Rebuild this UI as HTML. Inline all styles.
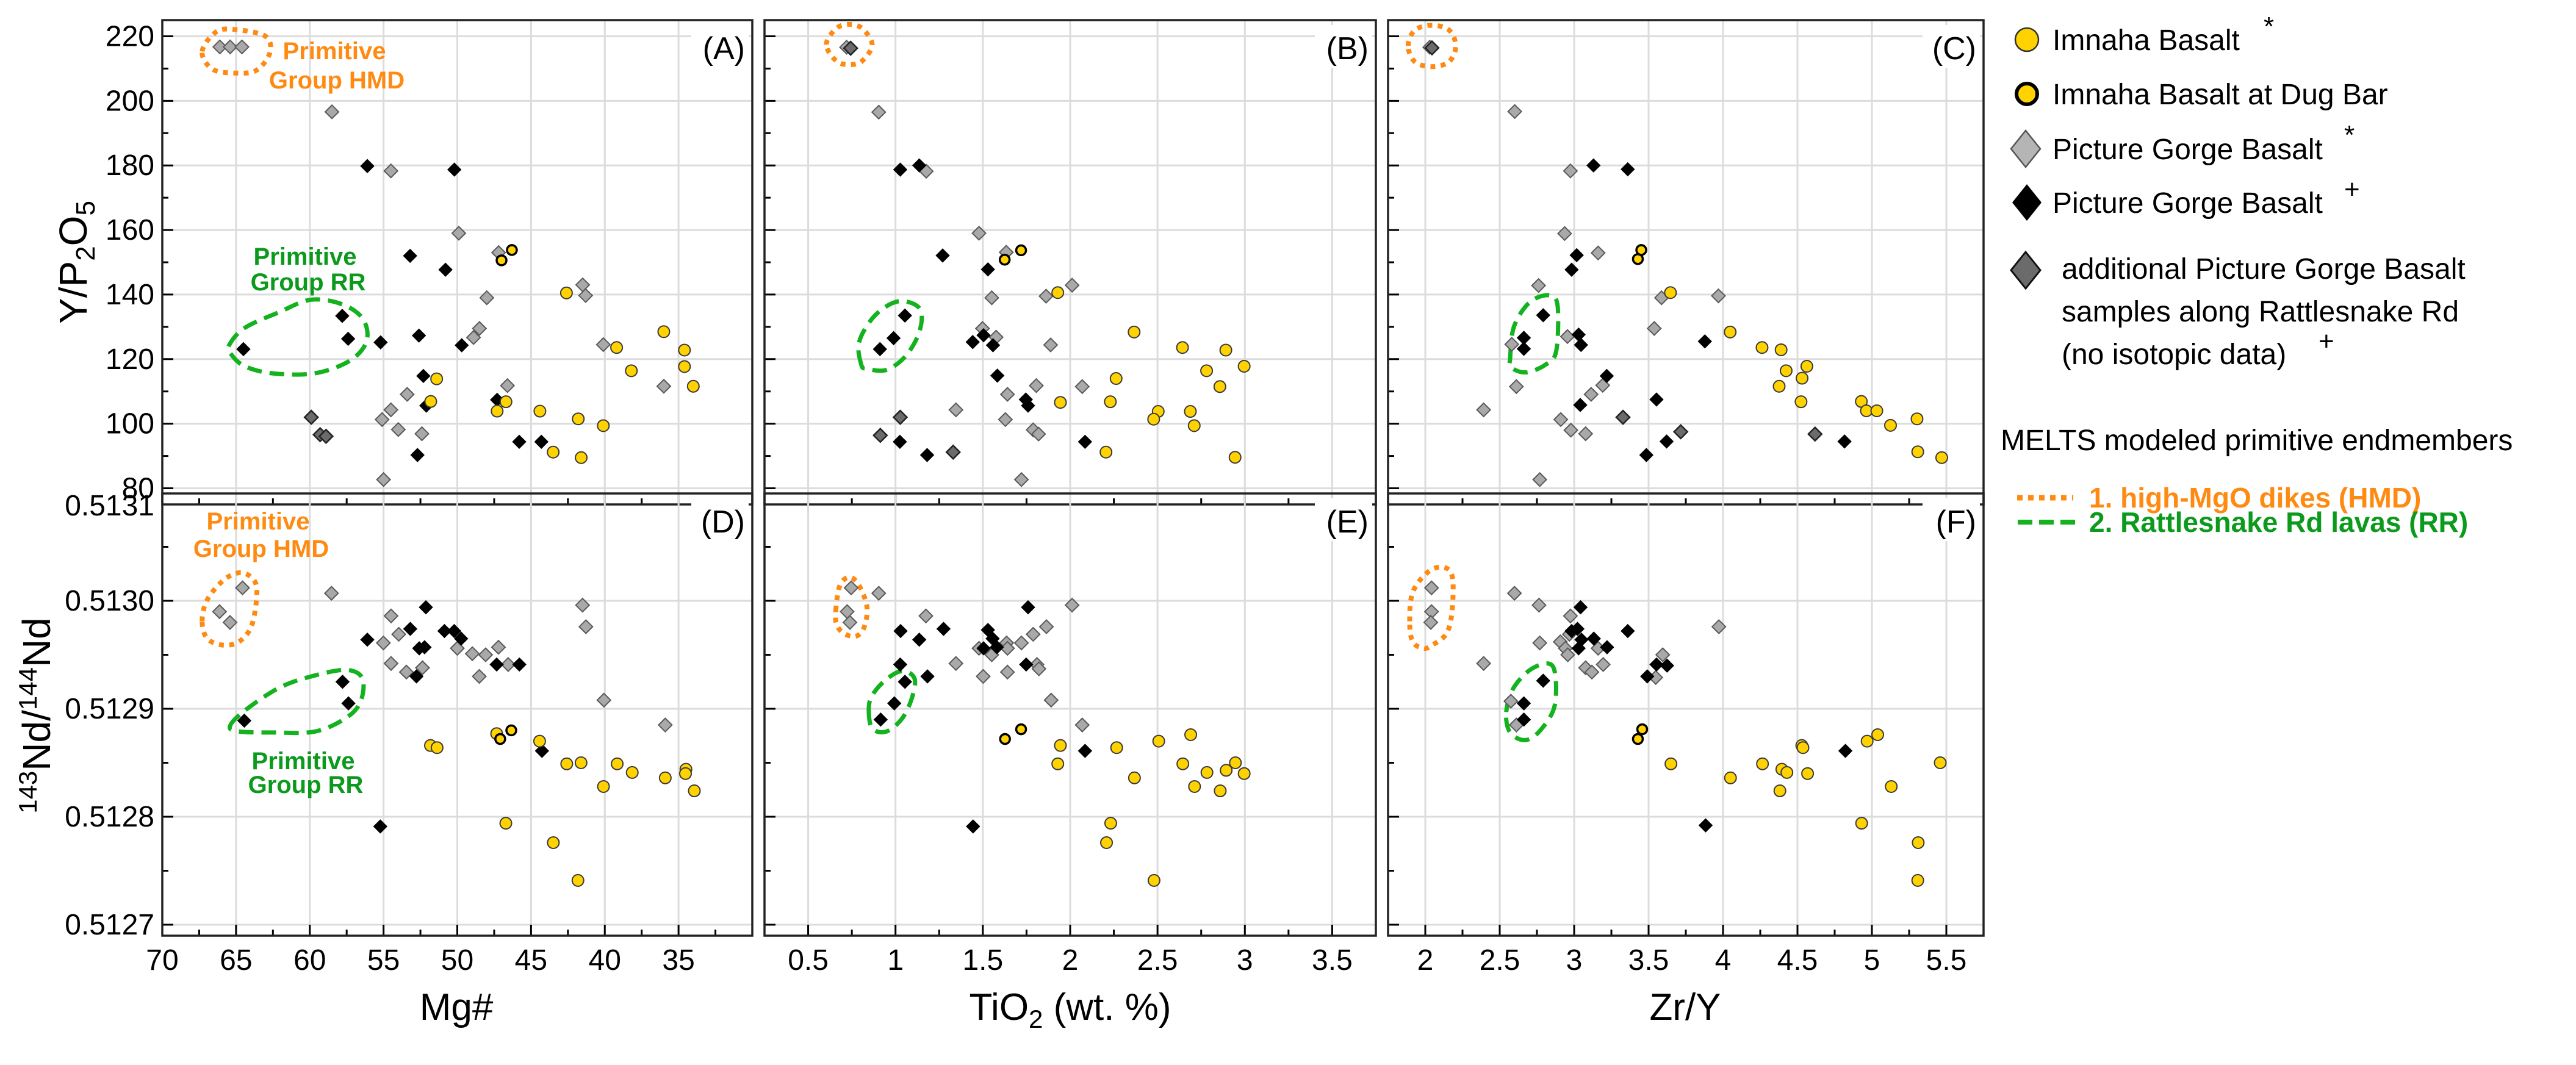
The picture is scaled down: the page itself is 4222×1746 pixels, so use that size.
<!DOCTYPE html>
<html><head><meta charset="utf-8"><title>Basalt geochemistry panels</title>
<style>
html,body{margin:0;padding:0;background:#fff;}
body{position:relative;width:4222px;height:1746px;overflow:hidden;}
svg{display:block;font-family:"Liberation Sans",sans-serif;}
</style></head>
<body>
<svg id="fig" xmlns="http://www.w3.org/2000/svg" width="4222" height="1746" viewBox="0 0 4222 1746"></svg>
<script>
// ---------------- DATA ----------------
const A_imnaha = [[51.4,113.9],[51.8,106.9],[47.3,103.9],[46.7,106.8],[44.4,103.9],[43.5,91.2],[42.6,140.5],[41.8,101.5],[41.6,89.5],[40.1,99.4],[39.2,123.6],[38.2,116.4],[36.0,128.5],[34.6,122.8],[34.6,117.7],[34.0,111.6]];
const A_dugbar = [[47.0,150.6],[46.3,153.8]];
const A_pgbGray = [[66.1,216.7],[65.4,216.7],[64.6,216.7],[58.5,196.6],[54.5,178.3],[49.9,159],[47.2,153],[48.0,139],[48.9,126.7],[48.5,129.5],[53.4,109.1],[54.5,104.3],[55.1,101.3],[54.0,98.2],[52.4,96.9],[55.0,82.7],[46.6,111.8],[41.5,143],[41.3,139.7],[40.1,124.5],[36.0,111.6]];
const A_pgbBlack = [[56.1,179.8],[50.2,178.7],[53.2,152],[50.8,147.7],[57.8,133.4],[57.4,126.3],[64.5,123.1],[55.2,125.2],[52.6,127.3],[49.7,124.3],[52.3,114.8],[52.1,105.6],[52.7,90.3],[47.3,107.4],[45.8,94.4],[44.3,94.4]];
const A_pgbExtra = [[59.9,102],[59.3,96.6],[58.9,96.1]];

const B_imnaha = [[1.929,140.6],[2.366,128.4],[2.643,123.6],[2.891,122.8],[2.781,116.4],[2.996,117.8],[2.857,111.5],[2.263,114.0],[1.944,106.6],[2.230,106.8],[2.504,103.8],[2.478,101.4],[2.688,103.8],[2.710,99.4],[2.205,91.2],[2.944,89.6]];
const B_dugbar = [[1.625,150.8],[1.719,153.7]];
const B_pgbGray = [[0.72,216.6],[0.904,196.5],[1.176,178.2],[1.478,159.0],[1.634,153.1],[1.551,139.0],[1.862,139.5],[2.011,142.9],[1.498,129.5],[1.576,126.8],[1.888,124.4],[1.806,111.8],[2.069,111.5],[1.641,109.1],[1.346,104.3],[1.629,101.3],[1.788,98.1],[1.819,96.8],[1.721,82.7]];
const B_pgbBlack = [[1.027,178.7],[1.136,180.0],[1.270,152.1],[1.529,147.8],[1.054,133.5],[0.989,126.5],[0.911,123.1],[1.504,127.4],[1.442,125.3],[1.558,124.3],[1.583,114.9],[1.746,107.5],[1.759,105.6],[1.025,94.4],[1.181,90.3],[2.085,94.4]];
const B_pgbExtra = [[0.743,216.3],[1.027,102.0],[0.913,96.4],[1.330,91.2]];

const C_imnaha = [[3.647,140.6],[4.048,128.4],[4.262,123.6],[4.390,122.9],[4.424,116.4],[4.563,117.8],[4.531,114.1],[4.377,111.6],[4.524,106.8],[4.929,106.9],[4.963,104.0],[5.033,104.0],[5.125,99.5],[5.303,101.5],[5.308,91.3],[5.469,89.5]];
const C_dugbar = [[3.428,151.0],[3.451,153.8]];
const C_pgbGray = [[2.03,216.6],[2.601,196.7],[2.975,178.3],[2.936,158.9],[3.161,152.9],[2.761,142.8],[3.587,139.0],[3.969,139.6],[2.581,124.6],[2.955,127.0],[3.538,129.5],[2.612,111.5],[3.192,111.9],[3.114,109.1],[2.392,104.3],[2.910,101.3],[2.978,98.0],[3.077,96.9],[2.769,82.7]];
const C_pgbBlack = [[3.130,180.0],[3.360,178.8],[3.017,152.2],[2.983,147.7],[2.792,133.6],[2.662,126.6],[2.662,123.2],[3.030,127.6],[3.046,124.4],[3.878,125.5],[3.219,114.8],[3.553,107.5],[3.041,105.8],[3.621,94.5],[3.485,90.3],[4.816,94.5]];
const C_pgbExtra = [[2.045,216.4],[3.328,102.0],[3.716,97.5],[4.618,96.8]];

const D_imnaha = [[51.82,0.512866],[51.37,0.512864],[47.33,0.512877],[44.42,0.512870],[46.71,0.512794],[42.58,0.512849],[41.61,0.512850],[39.16,0.512849],[38.14,0.512841],[35.90,0.512836],[34.50,0.512844],[34.53,0.512840],[33.93,0.512824],[40.09,0.512828],[43.49,0.512776],[41.82,0.512741]];
const D_dugbar = [[47.09,0.512872],[46.34,0.512880]];
const D_pgbGray = [[66.12,0.512990],[65.41,0.512980],[64.56,0.513012],[58.53,0.513007],[55.01,0.512961],[54.49,0.512986],[53.97,0.512969],[54.49,0.512942],[53.45,0.512934],[52.36,0.512938],[50.0,0.512956],[48.98,0.512951],[48.08,0.512950],[48.51,0.512930],[47.21,0.512957],[46.55,0.512941],[41.51,0.512996],[41.28,0.512976],[40.06,0.512908],[35.90,0.512885]];
const D_pgbBlack = [[64.44,0.512889],[57.78,0.512925],[57.38,0.512905],[56.10,0.512964],[53.19,0.512974],[52.77,0.512930],[52.58,0.512956],[52.22,0.512957],[52.13,0.512994],[50.87,0.512972],[50.21,0.512972],[49.74,0.512965],[47.33,0.512941],[45.79,0.512941],[44.26,0.512861],[55.22,0.512791]];

const E_imnaha = [[1.944,0.512866],[1.929,0.512849],[2.266,0.512864],[2.507,0.512870],[2.690,0.512876],[2.368,0.512836],[2.645,0.512849],[2.712,0.512828],[2.783,0.512841],[2.893,0.512843],[2.946,0.512850],[2.996,0.512840],[2.859,0.512824],[2.232,0.512794],[2.208,0.512776],[2.480,0.512741]];
const E_dugbar = [[1.627,0.512872],[1.719,0.512881]];
const E_pgbGray = [[0.746,0.513012],[0.723,0.512990],[0.739,0.512980],[0.904,0.513007],[1.174,0.512986],[1.346,0.512942],[1.478,0.512956],[1.551,0.512950],[1.636,0.512961],[1.641,0.512956],[1.721,0.512961],[1.788,0.512969],[1.864,0.512976],[2.011,0.512996],[1.810,0.512941],[1.821,0.512937],[1.502,0.512930],[1.641,0.512934],[1.891,0.512908],[2.069,0.512885]];
const E_pgbBlack = [[1.029,0.512972],[1.136,0.512964],[1.275,0.512974],[1.027,0.512941],[1.054,0.512925],[0.993,0.512905],[0.915,0.512890],[1.183,0.512930],[1.529,0.512973],[1.556,0.512965],[1.580,0.512957],[1.504,0.512956],[1.759,0.512994],[1.748,0.512941],[2.085,0.512861],[1.444,0.512791]];

const F_imnaha = [[3.650,0.512849],[4.050,0.512836],[4.265,0.512849],[4.395,0.512844],[4.429,0.512841],[4.382,0.512824],[4.568,0.512840],[4.529,0.512866],[4.537,0.512864],[4.968,0.512870],[5.039,0.512876],[5.130,0.512828],[4.931,0.512794],[5.311,0.512776],[5.308,0.512741],[5.459,0.512850]];
const F_dugbar = [[3.428,0.512872],[3.457,0.512881]];
const F_pgbGray = [[2.042,0.513012],[2.042,0.512990],[2.037,0.512980],[2.599,0.513007],[2.764,0.512996],[2.975,0.512986],[2.968,0.512969],[3.161,0.512956],[2.907,0.512962],[2.941,0.512956],[2.957,0.512950],[2.769,0.512961],[2.392,0.512942],[3.077,0.512938],[3.119,0.512934],[3.195,0.512941],[3.595,0.512950],[3.548,0.512929],[3.972,0.512976],[2.575,0.512907],[2.612,0.512885]];
const F_pgbBlack = [[3.043,0.512994],[2.983,0.512972],[3.022,0.512974],[3.049,0.512964],[3.132,0.512965],[3.030,0.512956],[3.221,0.512957],[3.360,0.512972],[3.553,0.512941],[3.624,0.512940],[3.491,0.512930],[2.792,0.512926],[2.662,0.512905],[2.662,0.512890],[4.822,0.512861],[3.883,0.512792]];

const mgTicks = [70,65,60,55,50,45,40,35];
const tiTicks = [0.5,1,1.5,2,2.5,3,3.5];
const zrTicks = [2,2.5,3,3.5,4,4.5,5,5.5];
const ypTicks = [80,100,120,140,160,180,200,220];
const ndTicks = [0.5127,0.5128,0.5129,0.5130,0.5131];

const A_hmd = [[67.3,215.3],[66.3,221.5],[64.9,222.0],[63.0,220.0],[62.7,215.0],[63.6,209.5],[65.0,208.6],[66.6,209.8]];
const A_rr = [[65.47,124.3],[64.41,129.7],[62.05,134.6],[59.93,138.4],[57.81,137.0],[56.39,132.4],[56.16,125.4],[57.33,119.4],[59.69,115.6],[62.52,115.6],[64.41,117.8],[65.35,121.6]];
const B_hmd = [[0.604,217.4],[0.66,222.4],[0.735,223.7],[0.81,222.4],[0.866,217.4],[0.81,212.4],[0.735,211.2],[0.66,212.4]];
const B_rr = [[0.804,118.3],[0.792,125.4],[0.882,133.5],[1.016,137.9],[1.138,135.7],[1.138,128.7],[1.060,121.1],[0.949,116.7],[0.837,117.0]];
const C_hmd = [[1.885,217.0],[1.93,221.9],[2.045,223.4],[2.16,221.9],[2.205,217.0],[2.16,212.1],[2.045,210.6],[1.93,212.1]];
const C_rr = [[2.570,120.3],[2.596,130.1],[2.701,137.6],[2.832,139.8],[2.889,136.5],[2.879,122.4],[2.805,118.2],[2.675,115.9],[2.575,117.5]];
const D_hmd = [[67.30,0.512981],[66.95,0.513001],[65.77,0.513020],[64.59,0.513026],[63.69,0.513017],[63.64,0.512998],[64.0,0.512975],[64.82,0.512962],[65.89,0.512959],[66.95,0.512965]];
const D_rr = [[65.41,0.512884],[64.35,0.512899],[61.99,0.512920],[59.62,0.512931],[57.49,0.512936],[56.43,0.512928],[56.55,0.512907],[57.49,0.512892],[59.62,0.512879],[62.46,0.512878],[64.82,0.512879]];
const E_hmd = [[0.658,0.512991],[0.681,0.513014],[0.737,0.513022],[0.792,0.513014],[0.837,0.512994],[0.819,0.512975],[0.770,0.512967],[0.703,0.512970],[0.663,0.512978]];
const E_rr = [[0.848,0.512894],[0.859,0.512910],[0.938,0.512926],[1.038,0.512935],[1.109,0.512928],[1.094,0.512910],[1.038,0.512891],[0.949,0.512879],[0.871,0.512881]];
const F_hmd = [[1.895,0.512981],[1.916,0.513008],[2.021,0.513027],[2.126,0.513031],[2.183,0.513021],[2.178,0.512988],[2.139,0.512969],[2.047,0.512959],[1.990,0.512956],[1.916,0.512962]];
const F_rr = [[2.544,0.512897],[2.596,0.512920],[2.727,0.512938],[2.858,0.512939],[2.871,0.512904],[2.779,0.512881],[2.675,0.512871],[2.570,0.512878]];

// ---------------- HELPERS ----------------
const NS = "http://www.w3.org/2000/svg";
const svg = document.getElementById('fig');
function mk(tag, attrs, parent){
  const e = document.createElementNS(NS, tag);
  for (const k in attrs) e.setAttribute(k, attrs[k]);
  (parent||svg).appendChild(e);
  return e;
}
const xMg = v => 266 + (70 - v) / 40 * 967;
const xTi = v => 1253 + (v - 0.25) / 3.5 * 1002;
const xZr = v => 2275 + (v - 1.75) / 4 * 976;
const yYP = v => 33 + (225 - v) / 150 * 794;
const yNd = v => 1516 - (v - 0.5127) * 1770000;

const COLS = {
  A:{x0:266,x1:1233,y0:33,y1:827,sx:xMg,sy:yYP,label:'(A)'},
  B:{x0:1253,x1:2255,y0:33,y1:827,sx:xTi,sy:yYP,label:'(B)'},
  C:{x0:2275,x1:3251,y0:33,y1:827,sx:xZr,sy:yYP,label:'(C)'},
  D:{x0:266,x1:1233,y0:809,y1:1534,sx:xMg,sy:yNd,label:'(D)'},
  E:{x0:1253,x1:2255,y0:809,y1:1534,sx:xTi,sy:yNd,label:'(E)'},
  F:{x0:2275,x1:3251,y0:809,y1:1534,sx:xZr,sy:yNd,label:'(F)'}
};
const xMaj = {A:mgTicks,B:tiTicks,C:zrTicks,D:mgTicks,E:tiTicks,F:zrTicks};
const xMinStep = {A:2.5,B:0.25,C:0.25,D:2.5,E:0.25,F:0.25};
const yMaj = {A:ypTicks,B:ypTicks,C:ypTicks,D:ndTicks,E:ndTicks,F:ndTicks};

function catmull(pts){
  const n = pts.length; let d = 'M'+pts[0][0].toFixed(1)+','+pts[0][1].toFixed(1);
  for (let i=0;i<n;i++){
    const p0=pts[(i-1+n)%n],p1=pts[i],p2=pts[(i+1)%n],p3=pts[(i+2)%n];
    const c1=[p1[0]+(p2[0]-p0[0])/6,p1[1]+(p2[1]-p0[1])/6];
    const c2=[p2[0]-(p3[0]-p1[0])/6,p2[1]-(p3[1]-p1[1])/6];
    d+=' C'+c1[0].toFixed(1)+','+c1[1].toFixed(1)+' '+c2[0].toFixed(1)+','+c2[1].toFixed(1)+' '+p2[0].toFixed(1)+','+p2[1].toFixed(1);
  }
  return d+'Z';
}

function drawPanel(key, series, hmd, rr){
  const P = COLS[key];
  const g = mk('g', {});
  
  
  xMaj[key].forEach(v=>{
    const x = P.sx(v);
    if (x > P.x0+2 && x < P.x1-2){
      const l = mk('line',{x1:x,x2:x,y1:P.y0,y2:P.y1,stroke:'#dcdcdc','stroke-width':3},g);
      
      
    }
  });
  yMaj[key].forEach(v=>{
    const y = P.sy(v);
    if (y > P.y0+2 && y < P.y1-2){
      const l = mk('line',{x1:P.x0,x2:P.x1,y1:y,y2:y,stroke:'#dcdcdc','stroke-width':3},g);
      
      
    }
  });
  const bg = mk('rect',{x:P.x1-100,y:P.y0+8,width:94,height:70,fill:'#fff'},g);
  
  
  const lt = mk('text',{x:P.x1-12,y:P.y0+64,'font-size':52,'text-anchor':'end',fill:'#000'},g);
  lt.textContent = P.label;
  
  
  const x0v = Math.min(xMaj[key][0], xMaj[key][xMaj[key].length-1]);
  const x1v = Math.max(xMaj[key][0], xMaj[key][xMaj[key].length-1]);
  for (let v = x0v - 2*xMinStep[key]; v <= x1v + 2*xMinStep[key] + 1e-9; v += xMinStep[key]){
    const x = P.sx(v);
    if (x <= P.x0+3 || x >= P.x1-3) continue;
    const isMaj = xMaj[key].some(t=>Math.abs(t-v)<1e-6);
    const t = mk('line',{x1:x,x2:x,y1:P.y1,y2:P.y1-(isMaj?18:10),stroke:'#000','stroke-width':3},g);
    
    
  }
  const ym = yMaj[key];
  const ystep = (ym[1]-ym[0])/2;
  for (let i = 0; i < ym.length*2+1; i++){
    const v = ym[0] + i*ystep;
    const y = P.sy(v);
    if (y <= P.y0+3 || y >= P.y1-3) continue;
    const isMaj = i%2===0;
    const t = mk('line',{x1:P.x0,x2:P.x0+(isMaj?18:10),y1:y,y2:y,stroke:'#000','stroke-width':3},g);
    
    
  }
  if (key==='A' || key==='D'){
    ym.forEach(v=>{
      let y = P.sy(v);
      if (y < P.y0-20 || y > P.y1+5) return;
      if (key==='D') y = Math.max(y, P.y0+20);
      const t = mk('text',{x:253,y:y+16,'font-size':48,'text-anchor':'end',fill:'#000'},g);
      t.textContent = key==='A' ? String(v) : v.toFixed(4);
      
      
    });
  }
  if (key==='D' || key==='E' || key==='F'){
    xMaj[key].forEach(v=>{
      const t = mk('text',{x:P.sx(v),y:1590,'font-size':48,'text-anchor':'middle',fill:'#000'},g);
      t.textContent = String(v);
      
      
    });
  }
  const hp = mk('path',{d:catmull(hmd.map(p=>[P.sx(p[0]),P.sy(p[1])])),fill:'none',stroke:'#FF8A12','stroke-width':8,'stroke-dasharray':'8 9'},g);
  
  
  const rp = mk('path',{d:catmull(rr.map(p=>[P.sx(p[0]),P.sy(p[1])])),fill:'none',stroke:'#13B21E','stroke-width':7,'stroke-dasharray':'24 13'},g);
  
  
  const diamond = (x,y,h,fill,stroke,sw,name)=>{
    const d = mk('path',{d:`M${x},${y-h}L${x+h},${y}L${x},${y+h}L${x-h},${y}Z`,fill:fill,stroke:stroke,'stroke-width':sw},g);
    
    
  };
  (series.gray||[]).forEach(p=>diamond(P.sx(p[0]),P.sy(p[1]),11,'#A9A9A9','#5a5a5a',2,'pgb-star-point'));
  (series.extra||[]).forEach(p=>diamond(P.sx(p[0]),P.sy(p[1]),11,'#6b6b6b','#222',2.5,'pgb-rattlesnake-point'));
  (series.black||[]).forEach(p=>diamond(P.sx(p[0]),P.sy(p[1]),11,'#000','#000',1,'pgb-plus-point'));
  (series.imnaha||[]).forEach(p=>{
    const c = mk('circle',{cx:P.sx(p[0]),cy:P.sy(p[1]),r:9.5,fill:'#FFD200',stroke:'#3a3a3a','stroke-width':2},g);
    
    
  });
  (series.dug||[]).forEach(p=>{
    const c = mk('circle',{cx:P.sx(p[0]),cy:P.sy(p[1]),r:8,fill:'#FFD200',stroke:'#000','stroke-width':3.5},g);
    
    
  });
  const fr = mk('rect',{x:P.x0,y:P.y0,width:P.x1-P.x0,height:P.y1-P.y0,fill:'none',stroke:'#222','stroke-width':3.5},g);
  
  
}

drawPanel('A',{imnaha:A_imnaha,dug:A_dugbar,gray:A_pgbGray,black:A_pgbBlack,extra:A_pgbExtra},A_hmd,A_rr);
drawPanel('B',{imnaha:B_imnaha,dug:B_dugbar,gray:B_pgbGray,black:B_pgbBlack,extra:B_pgbExtra},B_hmd,B_rr);
drawPanel('C',{imnaha:C_imnaha,dug:C_dugbar,gray:C_pgbGray,black:C_pgbBlack,extra:C_pgbExtra},C_hmd,C_rr);
drawPanel('D',{imnaha:D_imnaha,dug:D_dugbar,gray:D_pgbGray,black:D_pgbBlack},D_hmd,D_rr);
drawPanel('E',{imnaha:E_imnaha,dug:E_dugbar,gray:E_pgbGray,black:E_pgbBlack},E_hmd,E_rr);
drawPanel('F',{imnaha:F_imnaha,dug:F_dugbar,gray:F_pgbGray,black:F_pgbBlack},F_hmd,F_rr);
</script>

<svg style="position:absolute;left:0;top:0" width="4222" height="1746" viewBox="0 0 4222 1746" xmlns="http://www.w3.org/2000/svg" font-family="Liberation Sans, sans-serif">
  <g font-weight="bold" font-size="40" text-anchor="middle">
    <text x="548" y="97" fill="#FF8A12">Primitive</text>
    <text x="552" y="145" fill="#FF8A12">Group HMD</text>
    <text x="500" y="434" fill="#0B9A1C">Primitive</text>
    <text x="505" y="476" fill="#0B9A1C">Group RR</text>
    <text x="423" y="868" fill="#FF8A12">Primitive</text>
    <text x="428" y="913" fill="#FF8A12">Group HMD</text>
    <text x="497" y="1261" fill="#0B9A1C">Primitive</text>
    <text x="501" y="1300" fill="#0B9A1C">Group RR</text>
  </g>
  <text transform="translate(142,430) rotate(-90)" font-size="64" text-anchor="middle">Y/P<tspan font-size="44" dy="13">2</tspan><tspan dy="-13">O</tspan><tspan font-size="44" dy="13">5</tspan></text>
  <text transform="translate(82,1173) rotate(-90)" font-size="64" text-anchor="middle"><tspan font-size="42" dy="-22">143</tspan><tspan dy="22">Nd/</tspan><tspan font-size="42" dy="-22">144</tspan><tspan dy="22">Nd</tspan></text>
  <text x="748" y="1672" font-size="62" text-anchor="middle">Mg#</text>
  <text x="1754" y="1672" font-size="62" text-anchor="middle">TiO<tspan font-size="42" dy="13">2</tspan><tspan dy="-13"> (wt. %)</tspan></text>
  <text x="2762" y="1672" font-size="62" text-anchor="middle">Zr/Y</text>

  <g font-size="48">
    <circle cx="3322" cy="65" r="19" fill="#FFD200" stroke="#333" stroke-width="2.5"/>
    <text x="3364" y="82">Imnaha Basalt</text>
    <text x="3710" y="58" font-size="44">*</text>
    <circle cx="3322" cy="154" r="17" fill="#FFD200" stroke="#000" stroke-width="6"/>
    <text x="3364" y="171">Imnaha Basalt at Dug Bar</text>
    <path d="M3320,214L3344,244L3320,274L3296,244Z" fill="#B5B5B5" stroke="#555" stroke-width="2.5"/>
    <text x="3364" y="261">Picture Gorge Basalt</text>
    <text x="3842" y="236" font-size="44">*</text>
    <path d="M3322,302L3346,332L3322,362L3298,332Z" fill="#000"/>
    <text x="3364" y="349">Picture Gorge Basalt</text>
    <text x="3842" y="325" font-size="44">+</text>
    <path d="M3320,413L3344,443L3320,473L3296,443Z" fill="#6b6b6b" stroke="#111" stroke-width="3"/>
    <text x="3379" y="457">additional Picture Gorge Basalt</text>
    <text x="3379" y="527">samples along Rattlesnake Rd</text>
    <text x="3379" y="597">(no isotopic data)</text>
    <text x="3800" y="574" font-size="44">+</text>
    <text x="3279" y="738">MELTS modeled primitive endmembers</text>
    <line x1="3306" y1="816" x2="3398" y2="816" stroke="#FF8A12" stroke-width="9" stroke-dasharray="9 9"/>
    <text x="3424" y="832" fill="#FF8A12" font-weight="bold" font-size="46">1. high-MgO dikes (HMD)</text>
    <line x1="3307" y1="856" x2="3402" y2="856" stroke="#13B21E" stroke-width="8" stroke-dasharray="24 11"/>
    <text x="3424" y="872" fill="#0B9A1C" font-weight="bold" font-size="46">2. Rattlesnake Rd lavas (RR)</text>
  </g>
</svg>
</body></html>
